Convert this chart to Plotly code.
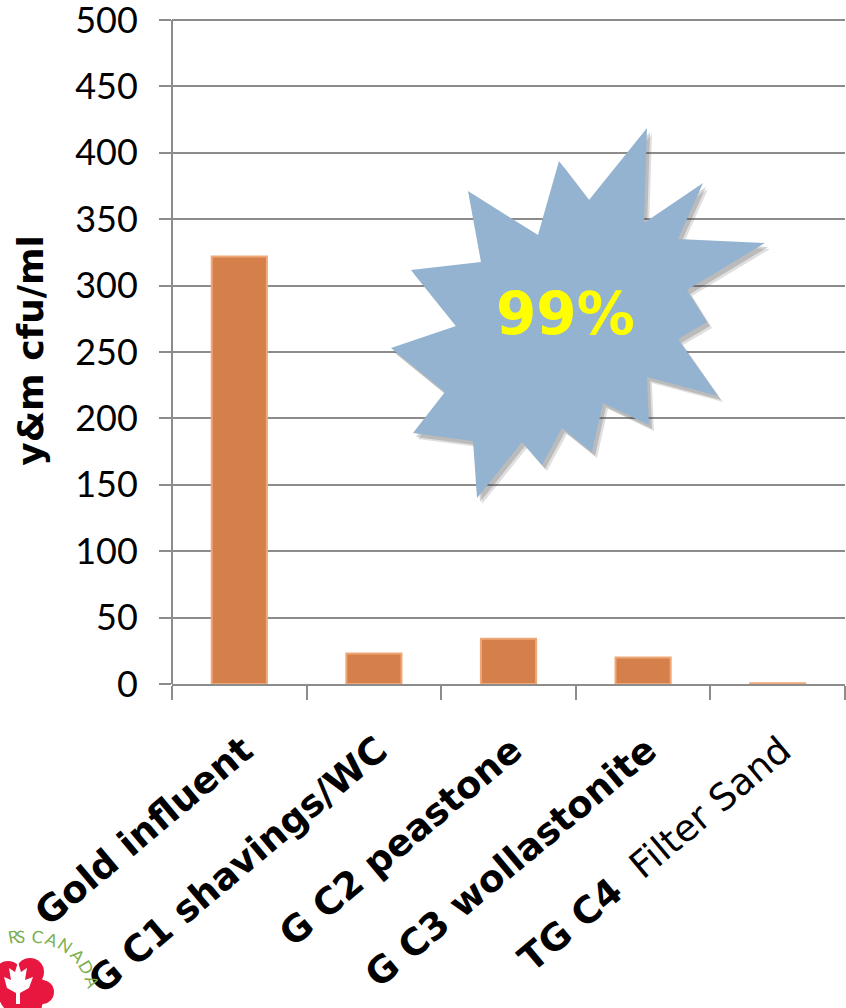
import math
import plotly.graph_objects as go

# Yeast & mould counts per treatment cell
categories = ["Gold influent", "G C1 shavings/WC", "G C2 peastone",
              "G C3 wollastonite", "TG C4 Filter Sand"]
tick_labels = ["<b>Gold influent</b>", "<b>G C1 shavings/WC</b>", "<b>G C2 peastone</b>",
               "<b>G C3 wollastonite</b>", "<b>TG C4</b>  Filter Sand"]
counts = [322, 23, 34, 20, 0.6]
y_ticks = [0, 50, 100, 150, 200, 250, 300, 350, 400, 450, 500]

W, H = 846, 1008
ML, MR, MT, MB = 172, 1, 17, 324
PW, PH = W - ML - MR, H - MT - MB
Y_TOP = 500 + 3 * 500 / 664   # a few pixels of headroom above the 500 line


def to_paper(px, py):
    return (px - ML) / PW, (H - MB - py) / PH


def poly_path(points, dx=0, dy=0):
    pts = [to_paper(x + dx, y + dy) for x, y in points]
    return "M " + " L ".join(f"{a:.4f},{b:.4f}" for a, b in pts) + " Z"


# starburst callout outline, in page pixels
burst = [(647, 128), (589, 200), (559, 161), (538, 235), (468, 191), (481, 262),
         (411, 270), (456, 326), (391, 348), (445, 392), (413, 433), (473, 441),
         (477, 498), (522, 442), (542, 465), (562, 428), (592, 452), (603, 403),
         (649, 425), (647, 377), (718, 396), (678, 339), (707, 322), (687, 290),
         (765, 243), (678, 239), (703, 183), (644, 223)]

fig = go.Figure()
fig.add_trace(go.Bar(
    x=categories, y=counts, width=0.41,
    marker=dict(color="#D5804A", line=dict(color="#EFA877", width=2)),
))

shapes = [
    dict(type="path", xref="paper", yref="paper", path=poly_path(burst, 5, 6),
         fillcolor="rgba(80,80,80,0.18)", line=dict(width=0), layer="above"),
    dict(type="path", xref="paper", yref="paper", path=poly_path(burst, 3, 4),
         fillcolor="rgba(60,60,60,0.22)", line=dict(width=0), layer="above"),
    dict(type="path", xref="paper", yref="paper", path=poly_path(burst),
         fillcolor="#93B3D1", line=dict(width=0), layer="above"),
]

# partial logo at the lower left corner: red rosette with a white leaf
for cx, cy, r in [(22, 992, 24), (8, 975, 14), (30, 972, 14), (42, 992, 12), (30, 1005, 12)]:
    x0, y0 = to_paper(cx - r, cy + r)
    x1, y1 = to_paper(cx + r, cy - r)
    shapes.append(dict(type="circle", xref="paper", yref="paper",
                       x0=x0, x1=x1, y0=y0, y1=y1,
                       fillcolor="#E8173F", line=dict(width=0), layer="above"))
leaf = [(18, 962), (21, 972), (27, 968), (25, 980), (33, 977), (29, 988),
        (20, 993), (20, 1004), (16, 1004), (16, 993), (7, 988), (4, 977),
        (11, 980), (9, 968), (15, 972)]
shapes.append(dict(type="path", xref="paper", yref="paper", path=poly_path(leaf),
                   fillcolor="white", line=dict(width=0), layer="above"))

annotations = [
    dict(text="<b>99%</b>", x=to_paper(565, 314)[0], y=to_paper(565, 314)[1],
         xref="paper", yref="paper", showarrow=False,
         font=dict(family="DejaVu Sans", size=58, color="#FFFF00")),
]

# curved logo lettering around the rosette
arc_cx, arc_cy, arc_r = 15, 1015, 66
for ch, ang in zip("RSCANADA", [-10, -1, 11, 22, 34, 47, 59, 71]):
    a = math.radians(ang)
    px = arc_cx + arc_r * math.sin(a)
    py = arc_cy - arc_r * math.cos(a)
    x, y = to_paper(px, py)
    annotations.append(dict(text=ch, x=x, y=y, xref="paper", yref="paper",
                            showarrow=False, textangle=ang,
                            font=dict(family="Lato", size=17, color="#7BAF4F")))

fig.update_layout(
    width=W, height=H, template="none",
    margin=dict(l=ML, r=MR, t=MT, b=MB, autoexpand=False),
    paper_bgcolor="white", plot_bgcolor="white",
    showlegend=False, bargap=0.59,
    shapes=shapes, annotations=annotations,
    xaxis=dict(
        tickmode="array", tickvals=categories, ticktext=tick_labels,
        tickangle=-40, tickson="boundaries", ticks="outside", ticklen=14,
        tickwidth=2, tickcolor="#8C8C8C", showgrid=False,
        showline=True, linecolor="#8C8C8C", linewidth=2,
        ticklabelstandoff=28, ticklabelshift=4, ticklabeloverflow="allow",
        tickfont=dict(family="DejaVu Sans", size=37, color="black"),
        automargin=False,
    ),
    yaxis=dict(
        range=[0, Y_TOP], tickvals=y_ticks, ticks="outside", ticklen=12,
        tickwidth=2, tickcolor="#8C8C8C", showgrid=True, gridcolor="#8C8C8C",
        gridwidth=2, showline=False,
        zeroline=False, ticklabelstandoff=14, ticklabeloverflow="allow",
        tickfont=dict(family="Lato", size=36, color="black"),
        title=dict(text="<b>y&m cfu/ml</b>", standoff=20,
                   font=dict(family="DejaVu Sans", size=36, color="black")),
        automargin=False,
    ),
)

# vertical axis line from the baseline up to the 500 line
fig.add_shape(type="line", xref="paper", yref="y", x0=0, x1=0, y0=0, y1=500,
              line=dict(color="#8C8C8C", width=2), layer="below")

fig.write_html("out.html")
